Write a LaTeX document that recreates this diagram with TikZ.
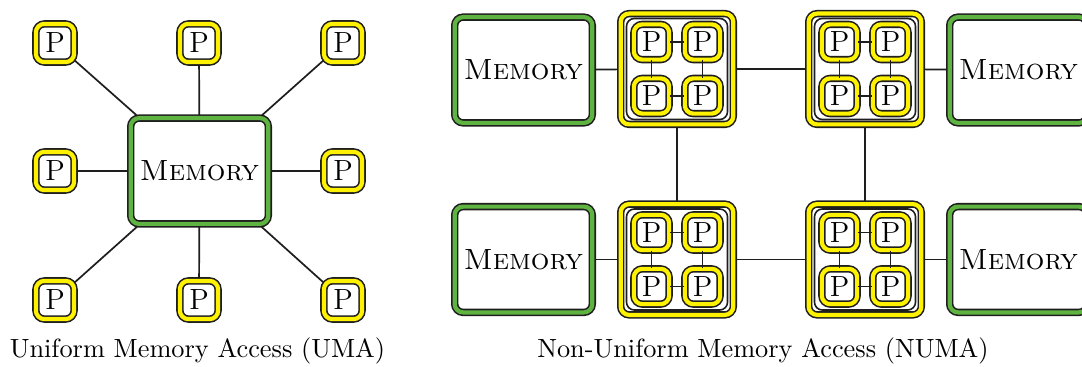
\documentclass[tikz,border=0pt]{standalone}
\usetikzlibrary{backgrounds}
\definecolor{memgreen}{RGB}{95,180,65}
\definecolor{linec}{RGB}{30,30,30}
\begin{document}
\begin{tikzpicture}[x=0.38pt,y=-0.38pt,
  dbl/.style={draw=linec, line width=0.6pt, double distance=1.6pt, fill=white, rounded corners=3.2pt, inner sep=0pt, font=\fontsize{11.1}{13}\selectfont},
  proc/.style={dbl, double=yellow, minimum size=14.5pt},
  sproc/.style={dbl, double=yellow, minimum size=13.4pt},
  mem/.style={dbl, double=memgreen, minimum width=52.3pt, minimum height=40.2pt},
  clus/.style={dbl, double=yellow, minimum width=42.8pt, minimum height=42.1pt},
  clin/.style={draw=linec, line width=0.6pt, rounded corners=3pt, minimum size=38.4pt, inner sep=0pt},
  conn/.style={draw=linec, line width=0.65pt},
  captext/.style={anchor=base, inner sep=0pt}
]
\clip (0,0) rectangle (1082,367);
\useasboundingbox (0,0) rectangle (1082,367);
% ---------- UMA ----------
\node[mem] (m) at (199.5,171) {\textsc{Memory}};
\node[proc] (p1) at (55,43) {P};
\node[proc] (p2) at (199,43) {P};
\node[proc] (p3) at (343,43) {P};
\node[proc] (p4) at (55,171) {P};
\node[proc] (p5) at (343,171) {P};
\node[proc] (p6) at (55,300) {P};
\node[proc] (p7) at (199,300) {P};
\node[proc] (p8) at (343,300) {P};
\begin{pgfonlayer}{background}
\foreach \i in {1,...,8} \draw[conn] (p\i.center) -- (m.center);
\end{pgfonlayer}
\node[captext] (uma) at (197.5,357) {Uniform Memory Access (UMA)};
% ---------- NUMA ----------
\node[mem] (ma) at (523.5,70) {\textsc{Memory}};
\node[mem] (mb) at (1018.5,70) {\textsc{Memory}};
\node[mem] (mc) at (523.5,259.5) {\textsc{Memory}};
\node[mem] (md) at (1018.5,259.5) {\textsc{Memory}};
\foreach \n/\cx/\cy in {a/677/69, b/865/69, c/677/259.5, d/865/259.5}{
  \node[clus] (c\n) at (\cx,\cy) {};
  \node[clin] (c\n in) at (\cx,\cy) {};
  \node[sproc] (c\n1) at (\cx-25.5,\cy-27) {P};
  \node[sproc] (c\n2) at (\cx+25.5,\cy-27) {P};
  \node[sproc] (c\n3) at (\cx-25.5,\cy+27) {P};
  \node[sproc] (c\n4) at (\cx+25.5,\cy+27) {P};
  \draw[conn] (c\n1) -- (c\n2);
  \draw[conn] (c\n3) -- (c\n4);
  \draw[conn] (c\n1) -- (c\n3);
  \draw[conn] (c\n2) -- (c\n4);
}
\begin{pgfonlayer}{background}
\draw[conn] (ma.center) -- (ca.center);
\draw[conn] (mc.center) -- (cc.center);
\draw[conn] (cb.center) -- (mb.center);
\draw[conn] (cd.center) -- (md.center);
\draw[conn] (ca.center) -- (cb.center);
\draw[conn] (cc.center) -- (cd.center);
\draw[conn] (ca.center) -- (cc.center);
\draw[conn] (cb.center) -- (cd.center);
\end{pgfonlayer}
\node[captext] (numa) at (763,357) {Non-Uniform Memory Access (NUMA)};
\end{tikzpicture}
\end{document}
